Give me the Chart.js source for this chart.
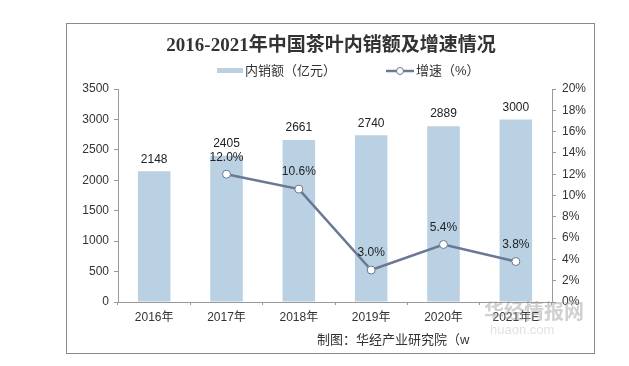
<!DOCTYPE html>
<html>
<head>
<meta charset="utf-8">
<script src="https://cdn.jsdelivr.net/npm/chart.js@4"></script>
<style>
  html, body { margin: 0; padding: 0; background: #fff; }
  #wrap { width: 629px; height: 366px; }
</style>
</head>
<body>
<div id="wrap"><canvas id="chart" width="629" height="366"></canvas></div>
<script>
// chart data
const years = ['2016年', '2017年', '2018年', '2019年', '2020年', '2021年E'];
const salesValues = [2148, 2405, 2661, 2740, 2889, 3000];
const growthRates = [null, 12.0, 10.6, 3.0, 5.4, 3.8];
const leftTicks = [0, 500, 1000, 1500, 2000, 2500, 3000, 3500];
const rightTicks = [0, 2, 4, 6, 8, 10, 12, 14, 16, 18, 20];

const titleText = '2016-2021年中国茶叶内销额及增速情况';
const barLabel = '内销额（亿元）';
const lineLabel = '增速（%）';
const sourceText = '制图：华经产业研究院（w';

const barColor = '#b9d1e3';
const lineColor = '#6b7893';
const sansFont = '"Liberation Sans", Arial, "Noto Sans CJK SC", sans-serif';

// frame, title, legend, value labels, footer
const decorations = {
  id: 'decorations',
  afterDatasetsDraw(chart) {
    const ctx = chart.ctx;
    ctx.save();

    // outer frame
    ctx.strokeStyle = '#8a8a8a';
    ctx.lineWidth = 1;
    ctx.strokeRect(66.5, 23.5, 528, 330);

    // title
    ctx.fillStyle = '#333';
    ctx.font = 'bold 19px "Liberation Serif", "Noto Sans CJK SC", serif';
    ctx.textAlign = 'center';
    ctx.textBaseline = 'middle';
    ctx.fillText(titleText, 331, 46);

    // legend
    ctx.font = '13px ' + sansFont;
    ctx.textAlign = 'left';
    ctx.fillStyle = barColor;
    ctx.fillRect(217, 68, 26, 5);
    ctx.fillStyle = '#333';
    ctx.fillText(barLabel, 245, 71);

    ctx.strokeStyle = lineColor;
    ctx.lineWidth = 2.5;
    ctx.beginPath();
    ctx.moveTo(386, 71);
    ctx.lineTo(414, 71);
    ctx.stroke();
    ctx.beginPath();
    ctx.arc(400, 71, 3.5, 0, Math.PI * 2);
    ctx.fillStyle = '#fff';
    ctx.fill();
    ctx.lineWidth = 1;
    ctx.stroke();
    ctx.fillStyle = '#333';
    ctx.fillText(lineLabel, 416, 71);

    // value labels
    ctx.font = '12px ' + sansFont;
    ctx.textAlign = 'center';
    ctx.fillStyle = '#222';
    chart.data.datasets.forEach((ds, di) => {
      const meta = chart.getDatasetMeta(di);
      meta.data.forEach((el, i) => {
        if (ds.type === 'bar') {
          ctx.fillText(String(salesValues[i]), el.x, el.y - 12);
        } else if (growthRates[i] !== null) {
          ctx.fillText(growthRates[i].toFixed(1) + '%', el.x, el.y - 17);
        }
      });
    });

    // source
    ctx.font = '13px ' + sansFont;
    ctx.textAlign = 'left';
    ctx.fillStyle = '#333';
    ctx.fillText(sourceText, 317, 340);

    // watermark
    ctx.font = 'bold 20px "Noto Sans CJK SC", sans-serif';
    ctx.fillStyle = 'rgba(150,150,150,0.45)';
    ctx.fillText('华经情报网', 484, 311);
    ctx.font = '13px ' + sansFont;
    ctx.fillStyle = 'rgba(170,170,170,0.35)';
    ctx.fillText('huaon.com', 490, 330);

    ctx.restore();
  }
};

new Chart(document.getElementById('chart'), {
  data: {
    labels: years,
    datasets: [
      {
        type: 'line',
        label: lineLabel,
        data: growthRates,
        yAxisID: 'y1',
        borderColor: lineColor,
        borderWidth: 2.5,
        pointRadius: 4,
        pointBackgroundColor: '#fff',
        pointBorderColor: lineColor,
        pointBorderWidth: 1,
        order: 0
      },
      {
        type: 'bar',
        label: barLabel,
        data: salesValues,
        yAxisID: 'y',
        backgroundColor: barColor,
        barPercentage: 0.45,
        categoryPercentage: 1,
        order: 1
      }
    ]
  },
  options: {
    responsive: false,
    animation: false,
    layout: { padding: { top: 89, left: 0, right: 0, bottom: 0 } },
    plugins: {
      legend: { display: false },
      title: { display: false },
      tooltip: { enabled: false }
    },
    scales: {
      x: {
        offset: true,
        afterFit(scale) { scale.height = 64; },
        grid: { offset: true, drawOnChartArea: false, tickLength: 3, color: '#999' },
        border: { color: '#999' },
        ticks: { color: '#333', padding: 5, font: { size: 12, family: sansFont } }
      },
      y: {
        position: 'left',
        min: 0,
        max: 3500,
        afterFit(scale) { scale.width = 118; },
        afterBuildTicks(scale) { scale.ticks = leftTicks.map(v => ({ value: v })); },
        grid: { drawOnChartArea: false, tickLength: 4, color: '#999' },
        border: { color: '#999' },
        ticks: {
          color: '#333',
          padding: 5,
          font: { size: 12, family: sansFont },
          callback: v => String(v)
        }
      },
      y1: {
        position: 'right',
        min: 0,
        max: 20,
        afterFit(scale) { scale.width = 77; },
        afterBuildTicks(scale) { scale.ticks = rightTicks.map(v => ({ value: v })); },
        grid: { drawOnChartArea: false, tickLength: 4, color: '#999' },
        border: { color: '#999' },
        ticks: {
          color: '#333',
          padding: 6,
          font: { size: 12, family: sansFont },
          callback: v => v + '%'
        }
      }
    }
  },
  plugins: [decorations]
});
</script>
</body>
</html>
